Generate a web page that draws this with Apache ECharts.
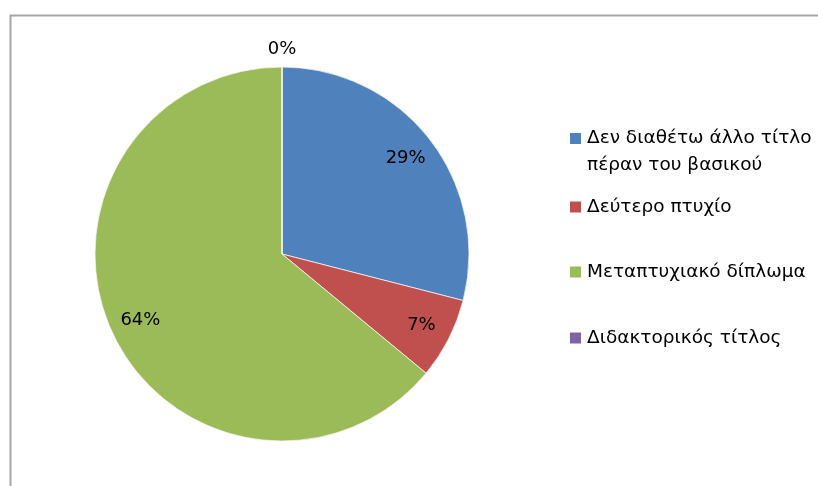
<!DOCTYPE html>
<html><head><meta charset="utf-8">
<script src="https://cdn.jsdelivr.net/npm/echarts@6/dist/echarts.min.js"></script>
<style>html,body{margin:0;padding:0;background:#fff}#c{width:818px;height:486px}</style>
</head><body><div id="c"></div>
<script>
const categories = ['Δεν διαθέτω άλλο τίτλο πέραν του βασικού', 'Δεύτερο πτυχίο', 'Μεταπτυχιακό δίπλωμα', 'Διδακτορικός τίτλος'];
const values = [29, 7, 64, 0];
const legendLabels = ['\nΔεν διαθέτω άλλο τίτλο\nπέραν του βασικού', 'Δεύτερο πτυχίο', 'Μεταπτυχιακό δίπλωμα', 'Διδακτορικός τίτλος'];
const colors = ['#4F81BD', '#C0504D', '#9BBB59', '#8064A2'];

const FONT = 'DejaVu Sans';
const chart = echarts.init(document.getElementById('c'), null, {renderer: 'canvas'});

const legendTops = [98, 196, 261, 327];
const legends = categories.map((name, i) => ({
  orient: 'vertical',
  left: 568,
  top: legendTops[i],
  padding: 0,
  itemWidth: 13,
  itemHeight: 13,
  icon: 'rect',
  selectedMode: false,
  data: [{name: name}],
  formatter: () => legendLabels[i],
  textStyle: {fontFamily: FONT, fontSize: 18.5, color: '#000', lineHeight: i === 0 ? 27 : 22}
}));

const mainData = categories.map((n, i) => ({name: n, value: values[i], itemStyle: {color: colors[i]}}));
const insideLabelData = categories.map((n, i) => ({name: n, value: values[i], label: {show: values[i] > 0}}));
const outerLabelData = categories.map((n, i) => ({name: n, value: values[i], label: {show: values[i] === 0}}));

const labelStyle = {position: 'inside', formatter: '{d}%', fontFamily: FONT, fontSize: 18, color: '#000'};

chart.setOption({
  animation: false,
  backgroundColor: '#fff',
  color: colors,
  legend: legends,
  graphic: [{
    type: 'rect', left: 8, top: 13, silent: true,
    shape: {x: 0, y: 0, width: 900, height: 600},
    style: {fill: 'none', stroke: '#a6a6a6', lineWidth: 2}
  }],
  series: [{
    type: 'pie',
    center: [282, 254],
    radius: 187,
    startAngle: 90,
    clockwise: true,
    avoidLabelOverlap: false,
    silent: true,
    label: {show: false},
    labelLine: {show: false},
    itemStyle: {borderColor: '#fff', borderWidth: 0.7},
    data: mainData
  }, {
    type: 'pie',
    center: [282, 254],
    radius: [120, 187],
    startAngle: 90,
    clockwise: true,
    avoidLabelOverlap: false,
    silent: true,
    itemStyle: {color: 'rgba(0,0,0,0)', borderWidth: 0},
    label: labelStyle,
    labelLine: {show: false},
    data: insideLabelData
  }, {
    type: 'pie',
    center: [282, 254],
    radius: [190, 214],
    startAngle: 90,
    clockwise: true,
    avoidLabelOverlap: false,
    silent: true,
    itemStyle: {color: 'rgba(0,0,0,0)', borderWidth: 0},
    label: labelStyle,
    labelLine: {show: false},
    data: outerLabelData
  }]
});
</script></body></html>
